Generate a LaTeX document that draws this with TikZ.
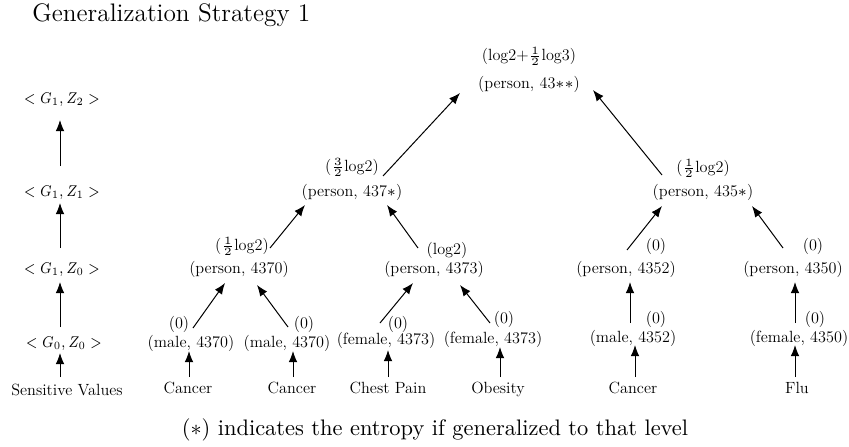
\documentclass[tikz,border=0pt]{standalone}
\usepackage{fontspec}
\usepackage{graphicx}
\newfontfamily\nodefont{lmroman12-regular}[Extension=.otf]
\usetikzlibrary{arrows.meta}
\tikzset{
  lbl/.style={inner sep=0pt, font=\nodefont\fontsize{7.3}{8.5}\selectfont, text height=0.75em, text depth=0.25em},
  arr/.style={-{Latex[length=5pt,width=3.9pt]}, line width=0.45pt},
}
\newcommand{\at}[3]{([shift={(#2,#3)}]#1.center)}
\newcommand{\lvl}[1]{\scalebox{0.85}[1]{$#1$}}
\begin{document}
\begin{tikzpicture}[x=0.45pt, y=-0.45pt]
  \useasboundingbox (0,0) rectangle (849,446);

  % title and footnote
  \node[font=\fontsize{11.4}{13}\selectfont, anchor=west, inner sep=0pt] (title) at (32,15) {Generalization Strategy 1};
  \node[font=\fontsize{10.1}{12}\selectfont, inner sep=0pt] (note) at (435,430) {($*$) indicates the entropy if generalized to that level};

  % level column
  \node[lbl] (g4) at (62,98)  {\lvl{<G_1,Z_2>}};
  \node[lbl] (g3) at (62,191) {\lvl{<G_1,Z_1>}};
  \node[lbl] (g2) at (62,268) {\lvl{<G_1,Z_0>}};
  \node[lbl] (g1) at (64,342) {\lvl{<G_0,Z_0>}};
  \node[lbl] (g0) at (67,390) {Sensitive Values};
  \draw[arr] \at{g0}{-7}{-13} -- \at{g1}{-4}{11};
  \draw[arr] \at{g1}{-4}{-15} -- \at{g2}{-2}{14};
  \draw[arr] \at{g2}{-2}{-20} -- \at{g3}{-2}{12};
  \draw[arr] \at{g3}{-2}{-25} -- \at{g4}{-2}{22};

  % root
  \node[lbl] (te) at (529,55) {(log2+$\frac{1}{2}$log3)};
  \node[lbl] (t)  at (529,83) {(person, 43$**$)};

  % second level
  \node[lbl] (ae) at (352,166) {($\frac{3}{2}$log2)};
  \node[lbl] (a)  at (352,191) {(person, 437$*$)};
  \node[lbl] (be) at (703,167) {($\frac{1}{2}$log2)};
  \node[lbl] (b)  at (703,191) {(person, 435$*$)};

  % third level
  \node[lbl] (ce) at (242,245) {($\frac{1}{2}$log2)};
  \node[lbl] (c)  at (239,268) {(person, 4370)};
  \node[lbl] (de) at (447,249) {(log2)};
  \node[lbl] (d)  at (434,268) {(person, 4373)};
  \node[lbl] (ee) at (656,245) {(0)};
  \node[lbl] (e)  at (626,268) {(person, 4352)};
  \node[lbl] (fe) at (813,245) {(0)};
  \node[lbl] (f)  at (793,268) {(person, 4350)};

  % records
  \node[lbl] (c1e) at (179,323) {(0)};
  \node[lbl] (c1)  at (191,342) {(male, 4370)};
  \node[lbl] (c2e) at (304,323) {(0)};
  \node[lbl] (c2)  at (287,342) {(male, 4370)};
  \node[lbl] (d1e) at (398,323) {(0)};
  \node[lbl] (d1)  at (386,339) {(female, 4373)};
  \node[lbl] (d2e) at (504,318) {(0)};
  \node[lbl] (d2)  at (493,338) {(female, 4373)};
  \node[lbl] (e1e) at (656,318) {(0)};
  \node[lbl] (e1)  at (633,337) {(male, 4352)};
  \node[lbl] (f1e) at (815,318) {(0)};
  \node[lbl] (f1)  at (799,337) {(female, 4350)};

  % sensitive values
  \node[lbl] (v1) at (188,388) {Cancer};
  \node[lbl] (v2) at (292,388) {Cancer};
  \node[lbl] (v3) at (388,388) {Chest Pain};
  \node[lbl] (v4) at (498,388) {Obesity};
  \node[lbl] (v5) at (633,388) {Cancer};
  \node[lbl] (v6) at (797,388) {Flu};

  % values to records
  \draw[arr] \at{v1}{1}{-11}  -- \at{c1}{-2}{9};
  \draw[arr] \at{v2}{1}{-11}  -- \at{c2}{6}{9};
  \draw[arr] \at{v3}{0}{-11}  -- \at{d1}{2}{11};
  \draw[arr] \at{v4}{2}{-11}  -- \at{d2}{7}{9};
  \draw[arr] \at{v5}{2}{-11}  -- \at{e1}{2}{8};
  \draw[arr] \at{v6}{-2}{-11} -- \at{f1}{-4}{8};

  % records to third level
  \draw[arr] \at{c1}{2}{-14}  -- \at{c}{-14}{15};
  \draw[arr] \at{c2}{1}{-15}  -- \at{c}{18}{17};
  \draw[arr] \at{d1}{-6}{-16} -- \at{d}{-21}{15};
  \draw[arr] \at{d2}{-3}{-15} -- \at{d}{26}{17};
  \draw[arr] \at{e1}{-3}{-14} -- \at{e}{4}{14};
  \draw[arr] \at{f1}{-4}{-14} -- \at{f}{2}{14};

  % third level to second level
  \draw[arr] \at{c}{31}{-20}  -- \at{a}{-47}{14};
  \draw[arr] \at{d}{-16}{-20} -- \at{a}{35}{14};
  \draw[arr] \at{e}{1}{-18}   -- \at{b}{-41}{15};
  \draw[arr] \at{f}{-10}{-20} -- \at{b}{49}{15};

  % second level to root
  \draw[arr] \at{a}{31}{-15}  -- \at{t}{-69}{10};
  \draw[arr] \at{b}{-41}{-16} -- \at{t}{64}{7};
\end{tikzpicture}
\end{document}
